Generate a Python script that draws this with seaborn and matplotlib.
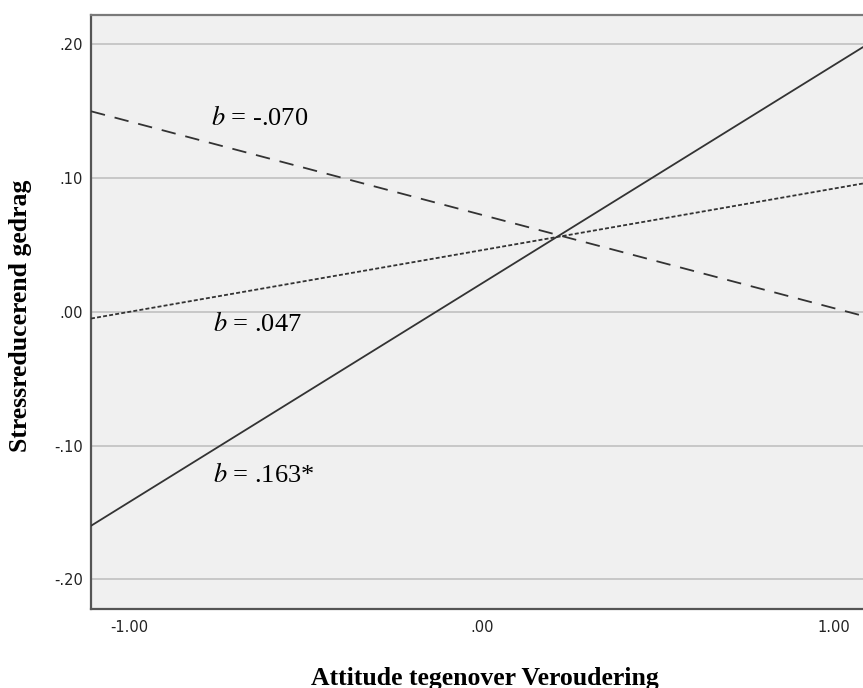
import numpy as np
import pandas as pd
import matplotlib
matplotlib.use("Agg")
import matplotlib.pyplot as plt
import seaborn as sns

# simple slopes at both ends of the x range
x_ends = [-1.11, 1.082]
groups = ["hoog", "gemiddeld", "laag"]
y_hoog = [0.150, -0.003]        # b = -.070, dashed
y_gemiddeld = [-0.005, 0.096]   # b = .047, dotted
y_laag = [-0.160, 0.198]        # b = .163*, solid
slope_labels = ["$b$ = -.070", "$b$ = .047", "$b$ = .163*"]
label_x = [-0.770, -0.765, -0.765]
label_y = [0.140, -0.0145, -0.127]

yticks = [-0.20, -0.10, 0.00, 0.10, 0.20]
ytick_labels = ["-.20", "-.10", ".00", ".10", ".20"]
xticks = [-1.0, 0.0, 1.0]
xtick_labels = ["-1.00", ".00", "1.00"]

df = pd.DataFrame({
    "x": x_ends * 3,
    "y": y_hoog + y_gemiddeld + y_laag,
    "groep": [g for g in groups for _ in x_ends],
})

sns.set_style("white")
plt.rcParams["font.family"] = ["DejaVu Sans"]
plt.rcParams["mathtext.fontset"] = "stix"

fig = plt.figure(figsize=(8.63, 6.88), dpi=100)
ax = fig.add_axes([91 / 863, 1 - 608.7 / 688, 1 - 91 / 863, (608.7 - 15) / 688])
ax.set_facecolor("#f0f0f0")

for t in yticks:
    ax.axhline(t, color="#c4c4c4", lw=1.3, zorder=1)

sns.lineplot(data=df, x="x", y="y", style="groep", color="#333333",
             dashes={"hoog": (8, 5.5), "gemiddeld": (2.2, 1.2), "laag": ""},
             linewidth=1.3, legend=False, ax=ax, zorder=3)

for txt, tx, ty in zip(slope_labels, label_x, label_y):
    ax.text(tx, ty, txt, fontsize=19, family="Liberation Serif",
            color="black", va="baseline", ha="left", zorder=4)

ax.set_xlim(x_ends[0], x_ends[1])
ax.set_ylim(-0.222, 0.222)
ax.set_xticks(xticks)
ax.set_xticklabels(xtick_labels)
ax.set_yticks(yticks)
ax.set_yticklabels(ytick_labels)
ax.tick_params(axis="both", length=0, labelsize=10.5, colors="#222222")
ax.tick_params(axis="x", pad=8)
ax.tick_params(axis="y", pad=6)

for side in ["left", "bottom", "top"]:
    ax.spines[side].set_color("#555555")
    ax.spines[side].set_linewidth(1.6)
ax.spines["top"].set_color("#7a7a7a")
ax.spines["right"].set_visible(False)

ax.set_xlabel("Attitude tegenover Veroudering", fontsize=18.5,
              family="Liberation Serif", fontweight="bold", color="black")
ax.set_ylabel("Stressreducerend gedrag", fontsize=18.5,
              family="Liberation Serif", fontweight="bold", color="black")
ax.xaxis.set_label_coords((485 - 91) / 772, -(678 - 608.7) / 593.7)
ax.xaxis.label.set_va("center")
ax.yaxis.set_label_coords((21 - 91) / 772, (608.7 - 316) / 593.7)
ax.yaxis.label.set_va("center")

fig.savefig("out.png", dpi=100)
